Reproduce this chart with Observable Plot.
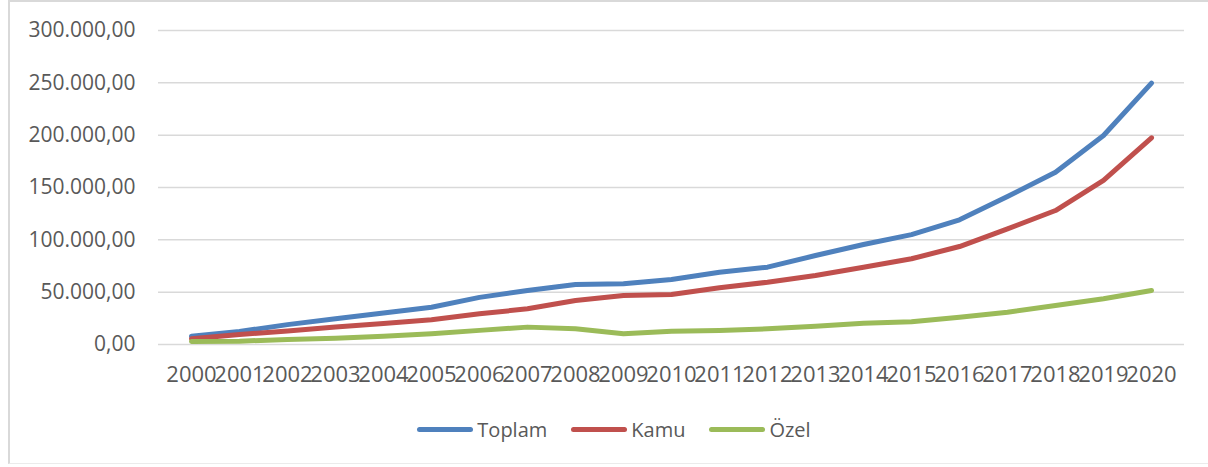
<!DOCTYPE html>
<html>
<head>
<meta charset="utf-8">
<script src="https://cdn.jsdelivr.net/npm/d3@7"></script>
<script src="https://cdn.jsdelivr.net/npm/@observablehq/plot@0.6"></script>
<style>
  html, body { margin: 0; padding: 0; background: #fff; }
  body { width: 1208px; height: 467px; position: relative; overflow: hidden; font-family: "Open Sans", sans-serif; }
  #frame { position: absolute; left: 8px; top: 0; width: 1230px; height: 464px; border-left: 2px solid #D9D9D9; border-top: 2px solid #D9D9D9; border-bottom: 1px solid #EBEBEB; box-sizing: border-box; }
  #chart { position: absolute; left: 0; top: 0; }
  #legend { position: absolute; left: 14px; top: 400px; width: 1200px; height: 58px; display: flex; justify-content: center; align-items: center; gap: 24px; color: #595959; font-size: 20px; }
  .item { display: flex; align-items: center; gap: 4px; }
  .sw { width: 56px; height: 5px; border-radius: 3px; }
</style>
</head>
<body>
<div id="frame"></div>
<div id="chart"></div>
<div id="legend"></div>
<script>
const years = ["2000","2001","2002","2003","2004","2005","2006","2007","2008","2009","2010","2011","2012","2013","2014","2015","2016","2017","2018","2019","2020"];
const toplam = [7900, 12400, 19000, 24500, 30000, 35600, 45000, 51600, 57300, 58000, 62100, 69100, 73900, 85000, 95500, 105000, 119100, 141400, 164600, 199700, 249700];
const kamu = [5400, 9500, 13000, 16700, 20000, 23600, 29300, 34100, 42000, 46800, 47800, 54200, 59500, 65900, 73800, 81900, 93600, 110500, 128000, 156700, 197500];
const ozel = [2900, 3200, 4700, 6000, 7800, 10200, 13500, 16600, 15000, 10200, 12700, 13400, 15000, 17500, 20400, 21700, 26100, 30900, 37300, 43700, 51600];
const seriesNames = ["Toplam", "Kamu", "Özel"];
const seriesColors = ["#4F81BD", "#C0504D", "#9BBB59"];
const yTicks = [0, 50000, 100000, 150000, 200000, 250000, 300000];

const seriesValues = [toplam, kamu, ozel];
const data = [];
seriesNames.forEach((name, si) => {
  years.forEach((yr, i) => data.push({series: name, year: yr, value: seriesValues[si][i]}));
});

const trLocale = d3.formatLocale({decimal: ",", thousands: ".", grouping: [3], currency: ["", ""]});
const fmt = trLocale.format(",.2f");

const chart = Plot.plot({
  width: 1208,
  height: 400,
  marginLeft: 158,
  marginRight: 24,
  marginTop: 30,
  marginBottom: 56,
  style: {fontFamily: "Open Sans, sans-serif", fontSize: "21px", color: "#595959", background: "transparent", overflow: "visible"},
  x: {type: "point", domain: years, padding: 0.5, label: null, tickSize: 0, tickPadding: 22},
  y: {domain: [0, 300000], ticks: yTicks, label: null, tickSize: 0, tickPadding: 23, tickFormat: fmt},
  color: {domain: seriesNames, range: seriesColors},
  marks: [
    Plot.ruleY(yTicks, {stroke: "#D9D9D9", strokeWidth: 1.5}),
    Plot.line(data, {x: "year", y: "value", z: "series", stroke: "series", strokeWidth: 5, strokeLinecap: "round", strokeLinejoin: "round"})
  ]
});
chart.querySelectorAll("text").forEach(t => t.setAttribute("fill", "#595959"));
chart.querySelectorAll('g[aria-label^="x-axis"]').forEach(g => {
  g.style.fontSize = "22px";
  g.querySelectorAll("text").forEach(t => t.style.fontSize = "22px");
});
document.getElementById("chart").appendChild(chart);

const legend = document.getElementById("legend");
seriesNames.forEach((name, i) => {
  const item = document.createElement("div");
  item.className = "item";
  const sw = document.createElement("div");
  sw.className = "sw";
  sw.style.background = seriesColors[i];
  const lab = document.createElement("span");
  lab.textContent = name;
  item.appendChild(sw);
  item.appendChild(lab);
  legend.appendChild(item);
});
</script>
</body>
</html>
